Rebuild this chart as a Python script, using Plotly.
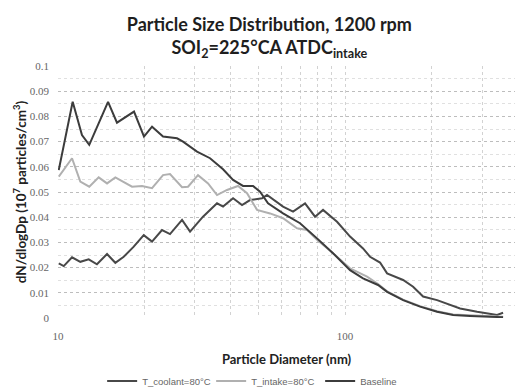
import plotly.graph_objects as go

# Baseline (upper curve at small sizes)
base_d = [10.06, 11.25, 12.12, 12.85, 14.94, 16.05, 18.40, 19.93, 21.26, 23.22, 25.98, 27.26,
          30.50, 33.86, 37.58, 40.72, 44.11, 47.80, 50.56, 53.91, 60.81, 69.68, 79.87, 90.80,
          104.1, 115.5, 130.3, 140.1, 159.3, 182.5, 209.2, 237.9, 272.6, 312.5, 355.2]
base_v = [0.0587, 0.0858, 0.0726, 0.0687, 0.0858, 0.0775, 0.0819, 0.0720, 0.0759, 0.0720, 0.0713, 0.0700,
          0.0660, 0.0634, 0.0590, 0.0548, 0.0524, 0.0524, 0.0501, 0.0455, 0.0415, 0.0376, 0.0316, 0.0257,
          0.0190, 0.0157, 0.0131, 0.0104, 0.0071, 0.0045, 0.0025, 0.0012, 0.0008, 0.0005, 0.0003]

# T_intake=80°C (light grey)
intake_d = [10.06, 11.19, 11.96, 12.85, 13.86, 14.82, 15.84, 18.11, 19.62, 21.26, 23.22, 24.56,
            27.05, 28.38, 30.74, 33.32, 35.81, 38.80, 42.38, 45.55, 49.36, 51.81, 54.80, 60.81,
            68.03, 73.73, 79.87, 90.80, 104.1, 119.3, 130.3, 140.1, 159.3, 182.5, 209.2, 237.9,
            272.6, 312.5, 355.2]
intake_v = [0.0561, 0.0634, 0.0541, 0.0521, 0.0558, 0.0534, 0.0558, 0.0521, 0.0524, 0.0515, 0.0567, 0.0571,
            0.0519, 0.0521, 0.0567, 0.0534, 0.0488, 0.0508, 0.0524, 0.0495, 0.0429, 0.0422, 0.0415, 0.0396,
            0.0356, 0.0349, 0.0310, 0.0257, 0.0197, 0.0164, 0.0135, 0.0106, 0.0073, 0.0047, 0.0027, 0.0014,
            0.0010, 0.0007, 0.0005]

# T_coolant=80°C (lower curve at small sizes)
cool_d = [10.06, 10.47, 11.19, 11.96, 12.79, 13.67, 14.82, 15.84, 16.94, 18.36, 19.89, 21.26,
          23.03, 24.56, 27.05, 28.84, 32.00, 35.81, 37.58, 40.72, 43.76, 46.67, 51.39, 53.48,
          60.81, 65.89, 72.55, 78.61, 83.81, 93.78, 104.1, 115.5, 122.2, 132.4, 140.1, 159.3,
          172.6, 187.0, 209.2, 232.2, 251.6, 288.4, 312.5, 338.5, 355.2]
cool_v = [0.0217, 0.0206, 0.0241, 0.0223, 0.0233, 0.0213, 0.0254, 0.0219, 0.0243, 0.0283, 0.0329, 0.0303,
          0.0349, 0.0333, 0.0389, 0.0343, 0.0402, 0.0455, 0.0442, 0.0475, 0.0448, 0.0468, 0.0475, 0.0488,
          0.0442, 0.0422, 0.0455, 0.0402, 0.0429, 0.0382, 0.0323, 0.0276, 0.0243, 0.0220, 0.0177, 0.0151,
          0.0124, 0.0085, 0.0071, 0.0052, 0.0038, 0.0025, 0.0019, 0.0012, 0.0021]

x_tickvals = [10, 20, 30, 40, 50, 60, 70, 80, 90, 100, 200, 300]
x_ticktext = ["10", "", "", "", "", "", "", "", "", "100", "", ""]
y_tickvals = [0, 0.01, 0.02, 0.03, 0.04, 0.05, 0.06, 0.07, 0.08, 0.09, 0.1]
y_ticktext = ["0", "0.01", "0.02", "0.03", "0.04", "0.05", "0.06", "0.07", "0.08", "0.09", "0.1"]

dark = "#3c3c3c"
light = "#b0b0b0"

fig = go.Figure()
fig.add_trace(go.Scatter(x=cool_d, y=cool_v, mode="lines", name="T_coolant=80°C",
                         line=dict(color="#484848", width=2)))
fig.add_trace(go.Scatter(x=intake_d, y=intake_v, mode="lines", name="T_intake=80°C",
                         line=dict(color=light, width=2)))
fig.add_trace(go.Scatter(x=base_d, y=base_v, mode="lines", name="Baseline",
                         line=dict(color=dark, width=2)))

fig.update_layout(
    width=516, height=392,
    margin=dict(l=58, r=1, t=66, b=74, autoexpand=False),
    paper_bgcolor="white", plot_bgcolor="white",
    title=dict(text="Particle Size Distribution, 1200 rpm<br>SOI<sub>2</sub>=225°CA ATDC<sub>intake</sub>",
               x=0.522, xanchor="center", y=0.922, yanchor="top",
               font=dict(family="Lato", size=18, color="#1e1e1e", weight="bold")),
    xaxis=dict(type="log", range=[1, 2.592], tickvals=x_tickvals, ticktext=x_ticktext,
               showgrid=True, gridcolor="#d2d2d2", griddash="dot", gridwidth=1,
               zeroline=False, showline=False, ticks="", ticklabelstandoff=10,
               tickfont=dict(family="Liberation Serif", size=11, color="#666"),
               title=dict(text="Particle Diameter (nm)", standoff=18,
                          font=dict(family="Lato", size=13, color="#222", weight="bold"))),
    yaxis=dict(range=[0, 0.1], tickvals=y_tickvals, ticktext=y_ticktext,
               showgrid=True, gridcolor="#bdbdbd", griddash="dot", gridwidth=1,
               minor=dict(dtick=0.005, showgrid=True, gridcolor="#e0e0e0", griddash="dot", ticks=""),
               zeroline=False, showline=False, ticks="", ticklabelstandoff=8,
               tickfont=dict(family="Liberation Serif", size=11, color="#666"),
               title=dict(text="dN/dlogDp (10<sup>7</sup> particles/cm<sup>3</sup>)", standoff=0,
                          font=dict(family="Lato", size=13.5, color="#222", weight="bold"))),
    legend=dict(orientation="h", x=0.0966, xanchor="left", yref="container", y=0.028, yanchor="middle",
                font=dict(family="Liberation Sans", size=9.5, color="#666"),
                itemwidth=30, entrywidth=64, tracegroupgap=0, bgcolor="rgba(0,0,0,0)"),
    showlegend=True,
)

fig.write_html("out.html")
